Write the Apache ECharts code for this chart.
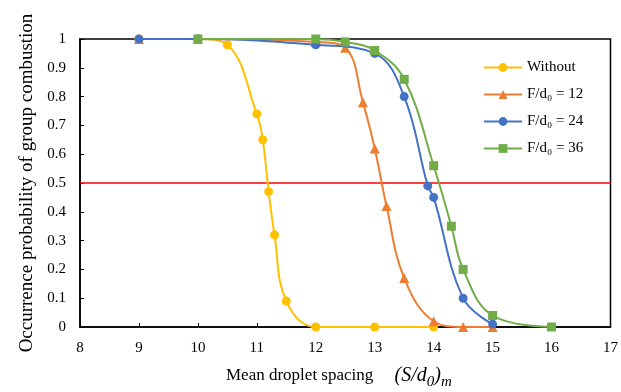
<!DOCTYPE html>
<html>
<head>
<meta charset="utf-8">
<script src="https://cdn.jsdelivr.net/npm/echarts@6/dist/echarts.min.js"></script>
<style>html,body{margin:0;padding:0;background:#fff;}#c{width:621px;height:392px;}</style>
</head>
<body>
<div id="c"></div>
<script>
var seriesNames = ['Without', 'F/d\u2080 = 12', 'F/d\u2080 = 24', 'F/d\u2080 = 36'];
var xWithout = [9, 10, 10.5, 11, 11.1, 11.2, 11.3, 11.5, 12, 13, 14];
var yWithout = [1, 1, 0.98, 0.74, 0.65, 0.47, 0.32, 0.09, 0, 0, 0];
var x12 = [9, 10, 12, 12.5, 12.8, 13, 13.2, 13.5, 14, 14.5, 15];
var y12 = [1, 1, 0.99, 0.97, 0.78, 0.62, 0.42, 0.17, 0.02, 0, 0];
var x24 = [9, 10, 12, 13, 13.5, 13.9, 14, 14.5, 15];
var y24 = [1, 1, 0.98, 0.95, 0.80, 0.49, 0.45, 0.10, 0.01];
var x36 = [10, 12, 12.5, 13, 13.5, 14, 14.3, 14.5, 15, 16];
var y36 = [1, 1, 0.99, 0.96, 0.86, 0.56, 0.35, 0.20, 0.04, 0];
var threshold = 0.5;

function pairs(xs, ys) { return xs.map(function (x, i) { return [x, ys[i]]; }); }

var serif = '"Liberation Serif", "Times New Roman", serif';
var colors = ['#FFC000', '#ED7D31', '#4472C4', '#70AD47'];
var symbols = ['circle', 'triangle', 'circle', 'rect'];
var sizes = [9, 10, 9, 9];
var xs = [xWithout, x12, x24, x36];
var ys = [yWithout, y12, y24, y36];

var series = seriesNames.map(function (n, i) {
  var s = {
    name: n, type: 'line', data: pairs(xs[i], ys[i]),
    smooth: 0.4,
    symbol: symbols[i], symbolSize: sizes[i], showAllSymbol: true,
    lineStyle: { color: colors[i], width: 2 },
    itemStyle: { color: colors[i] },
    z: 3 + i
  };
  if (i === 0) {
    s.markLine = {
      silent: true, symbol: 'none', label: { show: false },
      lineStyle: { color: '#FF0000', width: 1.5, type: 'solid' },
      data: [{ yAxis: threshold }], z: 2
    };
  }
  return s;
});

var chart = echarts.init(document.getElementById('c'));
chart.setOption({
  animation: false,
  backgroundColor: '#fff',
  color: colors,
  grid: { left: 80, right: 8, top: 39, bottom: 65, show: true, borderColor: '#000', borderWidth: 1.5, backgroundColor: 'transparent' },
  legend: {
    orient: 'vertical', left: 478, top: 55, itemGap: 12,
    itemWidth: 38, itemHeight: 11,
    textStyle: { fontFamily: serif, fontSize: 15, color: '#000' },
    data: seriesNames
  },
  xAxis: {
    type: 'value', min: 8, max: 17, interval: 1,
    axisLine: { lineStyle: { color: '#000', width: 1.5 } },
    axisTick: { inside: true, length: 4, lineStyle: { color: '#000' } },
    axisLabel: { fontFamily: serif, fontSize: 15, color: '#000', margin: 14 },
    splitLine: { show: false }
  },
  yAxis: {
    type: 'value', min: 0, max: 1, interval: 0.1,
    name: 'Occurrence probability of group combustion',
    nameLocation: 'middle', nameGap: 43,
    nameTextStyle: { fontFamily: serif, fontSize: 19, color: '#000' },
    axisLine: { lineStyle: { color: '#000', width: 1.5 } },
    axisTick: { inside: true, length: 4, lineStyle: { color: '#000' } },
    axisLabel: { fontFamily: serif, fontSize: 15, color: '#000', margin: 14,
      formatter: function (v) { return String(Math.round(v * 10) / 10); } },
    splitLine: { show: false }
  },
  graphic: [{
    type: 'text', left: 226, top: 366,
    style: {
      text: '{a|Mean droplet spacing}{sp|     }{m|(S/d}{s|0}{m|)}{s|m}',
      rich: {
        a: { fontFamily: serif, fontSize: 17, fill: '#000', lineHeight: 28, verticalAlign: 'middle' },
        sp: { fontFamily: serif, fontSize: 17, lineHeight: 28 },
        m: { fontFamily: serif, fontStyle: 'italic', fontSize: 20, fill: '#000', lineHeight: 28, verticalAlign: 'middle' },
        s: { fontFamily: serif, fontStyle: 'italic', fontSize: 15, fill: '#000', lineHeight: 28, verticalAlign: 'bottom' }
      }
    }
  }],
  series: series
});
</script>
</body>
</html>
